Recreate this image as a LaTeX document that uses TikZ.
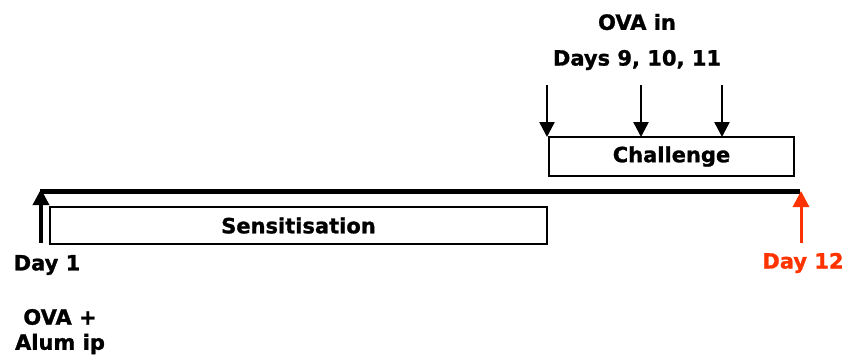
\documentclass[tikz,border=0pt]{standalone}
\usepackage{fontspec}
\setmainfont{DejaVu Sans}[BoldFeatures={FakeBold=1.2}]
\usetikzlibrary{arrows.meta}
\definecolor{dayred}{HTML}{FF3300}
\begin{document}
\begin{tikzpicture}[x=1pt,y=-1pt,
  lbl/.style={font=\bfseries\fontsize{21}{24}\selectfont, inner sep=0pt},
  phasebox/.style={draw, line width=1.2pt, inner sep=0pt},
  blackarrow/.style={line width=3.5pt, -{Triangle[length=16pt,width=16pt]}},
  downarrow/.style={line width=2.5pt, -{Triangle[length=15pt,width=15pt]}},
  redarrow/.style={dayred, line width=3pt, -{Triangle[length=16pt,width=16pt]}}]
\useasboundingbox (0,0) rectangle (851,362);
% timeline
\coordinate (tl) at (40,191);
\coordinate (tr) at (800,191);
\draw[line width=5pt] (tl) -- (tr);
% boxes
\node[phasebox, minimum width=497pt, minimum height=37pt] (sens) at (298.5,225.5) {};
\node[lbl] at (sens.center) {Sensitisation};
\node[phasebox, minimum width=245pt, minimum height=39pt] (chal) at (671.5,156.5) {};
\node[lbl] at (chal.center) {Challenge};
% day 1 arrow
\coordinate (d1b) at (41,243);
\coordinate (d1t) at (41,189);
\draw[blackarrow] (d1b) -- (d1t);
% day 12 arrow
\coordinate (d12b) at (801,243);
\coordinate (d12t) at (801,191);
\draw[redarrow] (d12b) -- (d12t);
% challenge arrows
\coordinate (a1t) at (547,85); \coordinate (a1b) at (547,137);
\coordinate (a2t) at (641,85); \coordinate (a2b) at (641,137);
\coordinate (a3t) at (722,85); \coordinate (a3b) at (722,137);
\draw[downarrow] (a1t) -- (a1b);
\draw[downarrow] (a2t) -- (a2b);
\draw[downarrow] (a3t) -- (a3b);
% labels
\node[lbl] (day1) at (47,265) {Day 1};
\node[lbl, text=dayred] (day12) at (803,263) {Day 12};
\node[lbl] (ova1) at (60,317) {OVA +};
\node[lbl] (alum) at (60,344) {Alum ip};
\node[lbl] (ovain) at (637,22) {OVA in};
\node[lbl] (days) at (637,60) {Days 9, 10, 11};
\end{tikzpicture}
\end{document}
